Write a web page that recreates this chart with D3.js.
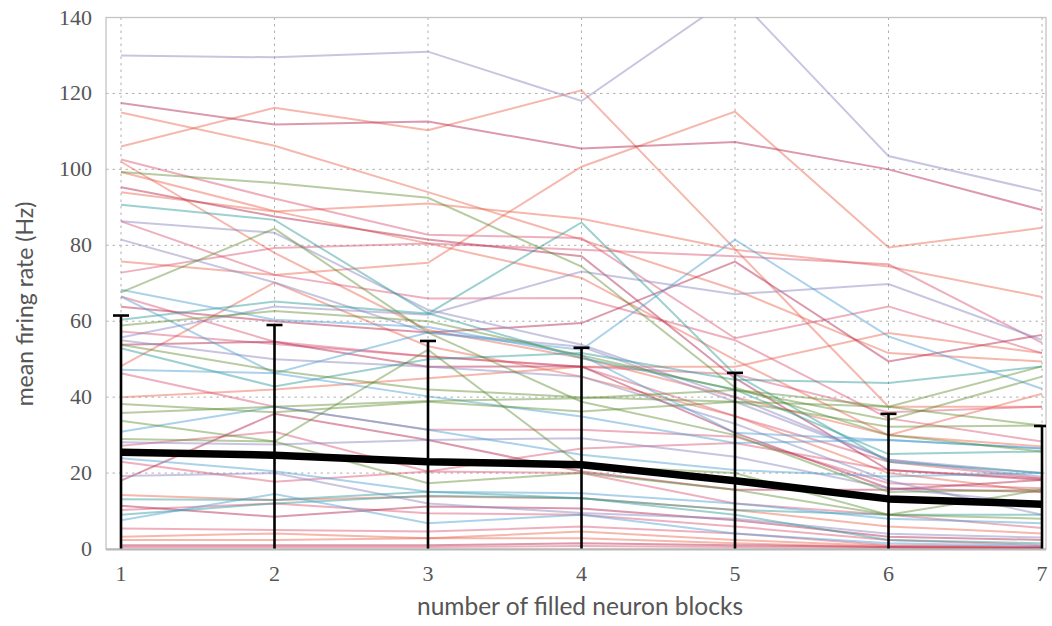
<!DOCTYPE html>
<html>
<head>
<meta charset="utf-8">
<script src="https://cdn.jsdelivr.net/npm/d3@7"></script>
<style>
  html, body { margin: 0; padding: 0; background: #fff; }
  svg { display: block; }
</style>
</head>
<body>
<svg id="chart" width="1052" height="626"></svg>
<script>
// ---------------- data ----------------
const blocks = [1, 2, 3, 4, 5, 6, 7];
const yTickValues = [0, 20, 40, 60, 80, 100, 120, 140];

// individual neurons, grouped by line colour (values in Hz at 1..7 blocks)
const salmonSeries = [
  [115, 106.2, 94, 81.5, 68.3, 51.6, 49.4],
  [106, 116.2, 110.3, 120.8, 79, 37.5, 37.5],
  [75.7, 72.2, 75.4, 100.7, 115.2, 79.4, 84.6],
  [102, 78, 57.7, 50.3, 40, 30, 27],
  [94, 88.9, 91, 87, 78.8, 74.4, 66.4],
  [48.2, 70.2, 53.4, 45.4, 35, 20, 15.1],
  [40, 42, 45, 48, 48, 56.9, 51.6],
  [14.2, 12.9, 13.8, 13.4, 10.3, 5.9, 4.1],
  [3.2, 4.1, 2.8, 4.6, 2.4, 0.8, 0.5],
  [2.4, 2.4, 2.8, 2.8, 1.5, 0.5, 0.3],
  [99.3, 89, 80.5, 71.4, 49.8, 30, 40.9]
];
const pinkSeries = [
  [102.6, 92.3, 82.8, 81.9, 55.5, 63.9, 51.6],
  [72.8, 79.3, 80.5, 78.8, 77.1, 75, 54.3],
  [66.5, 54.6, 50.7, 48, 46, 36, 37.5],
  [57.3, 54, 50.7, 48, 35, 23, 18.6],
  [46.3, 37.5, 31.4, 31.4, 29.6, 17.3, 16],
  [27.2, 30.9, 20.4, 26.5, 27.9, 20.8, 18.6],
  [23, 17.7, 20.4, 20, 12, 9, 5.5],
  [10.3, 12, 9.4, 9, 5.9, 2.4, 1],
  [5.4, 5, 4.6, 5.9, 4.1, 1, 0.5],
  [0.5, 0.5, 0.5, 0.8, 0.5, 0.3, 0.2],
  [86.3, 72.2, 66, 66.1, 55, 34.4, 28.3]
];
const crimsonSeries = [
  [117.5, 111.8, 112.6, 105.5, 107.2, 100, 89.3],
  [95.3, 87.6, 81.5, 77.1, 45, 20.8, 18.2],
  [63.8, 60, 57, 59.5, 75.7, 49.4, 56.4],
  [53.8, 54.6, 48, 48.1, 30.6, 16, 15],
  [18, 35.6, 28.7, 20.4, 15.6, 15.6, 18.2],
  [11.4, 8.5, 11.2, 10.7, 7.6, 3.2, 2.4],
  [1, 1, 1, 1.5, 1, 0.5, 0.3]
];
const purpleSeries = [
  [130, 129.5, 131, 118, 146, 103.5, 94.2],
  [86.3, 83.3, 63, 53.8, 40, 23.5, 20],
  [81.5, 70.2, 57, 53.3, 38.8, 23.5, 19],
  [55.7, 63.9, 61.7, 73.1, 67.1, 69.8, 55.1],
  [28.1, 27.5, 28.7, 29.2, 24.3, 16, 12],
  [19.2, 20, 12, 9.5, 8, 4, 3],
  [55, 50, 48, 45.4, 33, 18, 9]
];
const tealSeries = [
  [90.7, 86.7, 62.1, 50.3, 42, 25, 25.7],
  [60.4, 65.2, 62, 86, 46, 23, 20],
  [52.9, 42.8, 50, 51.6, 44.6, 43.7, 48.1],
  [13.1, 12.9, 15.1, 13.4, 9, 2.4, 1.5],
  [9, 12, 14, 13.4, 10.3, 9, 9]
];
const blueSeries = [
  [68.3, 60.4, 58.5, 51, 30.6, 28.7, 26.5],
  [66.5, 46.3, 57, 52.5, 81.5, 56, 42.2],
  [47.2, 46.3, 40.2, 34.9, 27.9, 28.7, 26.5],
  [30.9, 37.5, 31.4, 24.8, 20.8, 19.1, 20],
  [23.9, 20.5, 15.1, 14.7, 12, 8, 6.8],
  [7.6, 14.5, 6.8, 9, 4.1, 1.5, 0.8]
];
const greenSeries = [
  [99.3, 96.4, 92.5, 74.4, 42.5, 30, 25.7],
  [67.6, 84.4, 57, 38.8, 30, 15, 15.6],
  [58.9, 62.7, 60, 51, 41.9, 37.5, 48.1],
  [53.8, 47, 42, 40, 38.8, 32.2, 32.5],
  [38.2, 36, 38.8, 36.2, 38.8, 37.5, 32.5],
  [35.8, 37.5, 39, 39.7, 41.9, 34, 45.4],
  [33.8, 28.3, 17.3, 20, 15.6, 9, 15.6],
  [29, 28.3, 52.5, 22, 20, 9, 8]
];

// population mean and standard deviation
const meanRate = [25.5, 24.7, 23.0, 22.2, 18.0, 13.2, 11.8];
const stdRate = [36.0, 34.3, 31.8, 30.8, 28.4, 22.4, 20.6];

// ---------------- drawing ----------------
const svg = d3.select("#chart");
const plot = { left: 106, right: 1046, top: 17.5, bottom: 549 };

const x = d3.scaleLinear().domain([1, 7]).range([121, 1042]);
const y = d3.scaleLinear().domain([0, 140]).range([plot.bottom, plot.top]);

svg.append("defs").append("clipPath").attr("id", "plotClip")
  .append("rect")
  .attr("x", plot.left).attr("y", plot.top)
  .attr("width", plot.right - plot.left).attr("height", plot.bottom - plot.top);

// grid
const grid = svg.append("g");
grid.selectAll("line.vg").data(blocks).join("line")
  .attr("x1", d => x(d)).attr("x2", d => x(d))
  .attr("y1", plot.top).attr("y2", plot.bottom)
  .attr("stroke", "#b0b0b0").attr("stroke-width", 1)
  .attr("stroke-dasharray", "2.5,4");
grid.selectAll("line.hg").data(yTickValues.filter(v => v > 0 && v < 140)).join("line")
  .attr("x1", plot.left).attr("x2", plot.right)
  .attr("y1", d => y(d)).attr("y2", d => y(d))
  .attr("stroke", "#b0b0b0").attr("stroke-width", 1)
  .attr("stroke-dasharray", "2.5,4");

// frame
svg.append("rect")
  .attr("x", plot.left).attr("y", plot.top)
  .attr("width", plot.right - plot.left).attr("height", plot.bottom - plot.top)
  .attr("fill", "none").attr("stroke", "#c4c4c4").attr("stroke-width", 1.3);

const line = d3.line().x((d, i) => x(blocks[i])).y(d => y(d));

const groups = [
  { data: salmonSeries, color: "#ea5a45", op: 0.44 },
  { data: pinkSeries, color: "#d84a6a", op: 0.44 },
  { data: crimsonSeries, color: "#b3294f", op: 0.47 },
  { data: purpleSeries, color: "#8b83bf", op: 0.47 },
  { data: tealSeries, color: "#2f9c9a", op: 0.47 },
  { data: blueSeries, color: "#4d9fd2", op: 0.47 },
  { data: greenSeries, color: "#5b8c2c", op: 0.44 }
];

const lines = svg.append("g").attr("clip-path", "url(#plotClip)");
groups.forEach(g => {
  lines.append("g").selectAll("path").data(g.data).join("path")
    .attr("d", d => line(d))
    .attr("fill", "none")
    .attr("stroke", g.color)
    .attr("stroke-opacity", g.op)
    .attr("stroke-width", 2);
});

// error bars and mean
const err = svg.append("g").attr("clip-path", "url(#plotClip)");
err.selectAll("line.eb").data(blocks).join("line")
  .attr("x1", d => x(d)).attr("x2", d => x(d))
  .attr("y1", (d, i) => y(meanRate[i] - stdRate[i]))
  .attr("y2", (d, i) => y(meanRate[i] + stdRate[i]))
  .attr("stroke", "#000").attr("stroke-width", 2.6);
err.selectAll("line.capT").data(blocks).join("line")
  .attr("x1", d => x(d) - 8).attr("x2", d => x(d) + 8)
  .attr("y1", (d, i) => y(meanRate[i] + stdRate[i]))
  .attr("y2", (d, i) => y(meanRate[i] + stdRate[i]))
  .attr("stroke", "#000").attr("stroke-width", 2.6);
err.selectAll("line.capB").data(blocks).join("line")
  .attr("x1", d => x(d) - 8).attr("x2", d => x(d) + 8)
  .attr("y1", (d, i) => y(meanRate[i] - stdRate[i]))
  .attr("y2", (d, i) => y(meanRate[i] - stdRate[i]))
  .attr("stroke", "#000").attr("stroke-width", 2.6);
err.append("path")
  .attr("d", line(meanRate))
  .attr("fill", "none").attr("stroke", "#000")
  .attr("stroke-width", 7.5).attr("stroke-linejoin", "round");

// bottom axis line
svg.append("line")
  .attr("x1", plot.left).attr("x2", plot.right)
  .attr("y1", plot.bottom + 0.5).attr("y2", plot.bottom + 0.5)
  .attr("stroke", "#b8b8b8").attr("stroke-width", 2);

// tick labels
const tickFont = "'Liberation Serif', 'DejaVu Serif', serif";
svg.append("g").selectAll("text").data(blocks).join("text")
  .attr("x", d => x(d)).attr("y", 581)
  .attr("text-anchor", "middle")
  .attr("font-family", tickFont).attr("font-size", 22)
  .attr("fill", "#555").text(d => d);
svg.append("g").selectAll("text").data(yTickValues).join("text")
  .attr("x", 92).attr("y", d => y(d) + 7)
  .attr("text-anchor", "end")
  .attr("font-family", tickFont).attr("font-size", 22)
  .attr("fill", "#555").text(d => d);

// axis titles
const titleFont = "Lato, 'Open Sans', sans-serif";
svg.append("text")
  .attr("x", 580).attr("y", 615)
  .attr("text-anchor", "middle")
  .attr("font-family", titleFont).attr("font-size", 24.5)
  .attr("fill", "#555").text("number of filled neuron blocks");
svg.append("text")
  .attr("transform", "translate(33,304) rotate(-90)")
  .attr("text-anchor", "middle")
  .attr("font-family", titleFont).attr("font-size", 23)
  .attr("fill", "#555").text("mean firing rate (Hz)");
</script>
</body>
</html>
